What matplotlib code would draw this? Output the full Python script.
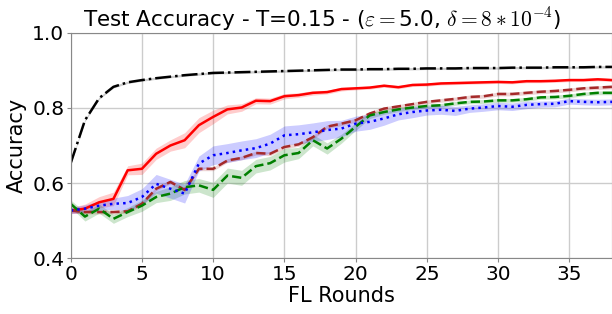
import numpy as np
import matplotlib
matplotlib.use("Agg")
import matplotlib.pyplot as plt

plt.rcParams['mathtext.fontset'] = 'cm'

rounds = np.arange(0, 39)

# centralized (black dash-dot)
acc_black = [0.653, 0.767, 0.826, 0.856, 0.868, 0.874, 0.879, 0.883, 0.887, 0.890,
             0.893, 0.894, 0.895, 0.896, 0.897, 0.898, 0.899, 0.900, 0.901, 0.902,
             0.902, 0.903, 0.903, 0.904, 0.904, 0.905, 0.905, 0.905, 0.906, 0.906,
             0.906, 0.907, 0.907, 0.907, 0.908, 0.908, 0.908, 0.909, 0.909]
std_black = [0.003] * 39

acc_red = [0.527, 0.532, 0.549, 0.558, 0.634, 0.638, 0.678, 0.700, 0.714, 0.754,
           0.776, 0.796, 0.801, 0.819, 0.818, 0.831, 0.834, 0.840, 0.842, 0.850,
           0.852, 0.854, 0.859, 0.855, 0.861, 0.862, 0.865, 0.866, 0.867, 0.868,
           0.869, 0.868, 0.871, 0.871, 0.872, 0.874, 0.874, 0.876, 0.874]
std_red = [0.008, 0.012, 0.015, 0.018, 0.012, 0.015, 0.015, 0.015, 0.02, 0.02,
           0.018, 0.012, 0.01, 0.008, 0.008, 0.007, 0.006, 0.006, 0.005, 0.005,
           0.004, 0.004, 0.004, 0.004, 0.004, 0.004, 0.004, 0.004, 0.004, 0.004,
           0.004, 0.004, 0.004, 0.004, 0.004, 0.004, 0.004, 0.004, 0.004]

acc_brown = [0.527, 0.523, 0.523, 0.523, 0.525, 0.545, 0.585, 0.603, 0.582, 0.638,
             0.638, 0.660, 0.667, 0.680, 0.678, 0.696, 0.703, 0.722, 0.750, 0.758,
             0.767, 0.785, 0.798, 0.804, 0.810, 0.816, 0.820, 0.824, 0.829, 0.831,
             0.837, 0.837, 0.840, 0.843, 0.845, 0.848, 0.852, 0.854, 0.856]
std_brown = [0.005] * 39

acc_green = [0.545, 0.511, 0.532, 0.505, 0.523, 0.540, 0.563, 0.572, 0.589, 0.594,
             0.582, 0.620, 0.614, 0.645, 0.653, 0.674, 0.680, 0.714, 0.692, 0.718,
             0.750, 0.780, 0.789, 0.796, 0.801, 0.805, 0.807, 0.812, 0.816, 0.817,
             0.820, 0.820, 0.823, 0.828, 0.829, 0.832, 0.837, 0.840, 0.840]
std_green = [0.01, 0.012, 0.012, 0.012, 0.012, 0.015, 0.015, 0.018, 0.018, 0.018,
             0.02, 0.02, 0.02, 0.018, 0.018, 0.018, 0.015, 0.015, 0.015, 0.012,
             0.01, 0.008, 0.006, 0.006, 0.005, 0.005, 0.005, 0.005, 0.005, 0.005,
             0.005, 0.005, 0.005, 0.005, 0.005, 0.005, 0.005, 0.005, 0.005]

acc_blue = [0.527, 0.532, 0.540, 0.545, 0.547, 0.563, 0.598, 0.585, 0.572, 0.652,
            0.674, 0.680, 0.687, 0.693, 0.705, 0.727, 0.730, 0.735, 0.741, 0.745,
            0.758, 0.763, 0.772, 0.783, 0.789, 0.793, 0.795, 0.792, 0.798, 0.801,
            0.805, 0.803, 0.808, 0.810, 0.811, 0.818, 0.816, 0.815, 0.816]
std_blue = [0.008, 0.01, 0.012, 0.015, 0.02, 0.022, 0.025, 0.025, 0.025, 0.02,
            0.025, 0.025, 0.025, 0.025, 0.025, 0.025, 0.025, 0.025, 0.025, 0.022,
            0.02, 0.02, 0.018, 0.015, 0.015, 0.012, 0.012, 0.012, 0.01, 0.01,
            0.01, 0.01, 0.01, 0.008, 0.008, 0.008, 0.008, 0.008, 0.008]

fig = plt.figure(figsize=(6.12, 3.14), dpi=100)
ax = fig.add_axes([0.1155, 0.1774, 0.8845, 0.7185])

series = [
    (acc_black, std_black, 'black', '-.'),
    (acc_red, std_red, 'red', '-'),
    (acc_brown, std_brown, 'brown', '--'),
    (acc_green, std_green, 'green', '--'),
    (acc_blue, std_blue, 'blue', ':'),
]
for acc, std, col, ls in series:
    acc = np.array(acc)
    std = np.array(std)
    ax.fill_between(rounds, acc - std, acc + std, color=col, alpha=0.2, linewidth=0)
    ax.plot(rounds, acc, color=col, linestyle=ls, linewidth=1.8)

ax.set_xlim(0, 38)
ax.set_ylim(0.4, 1.0)
ax.set_xticks([0, 5, 10, 15, 20, 25, 30, 35])
ax.set_yticks([0.4, 0.6, 0.8, 1.0])
ax.tick_params(labelsize=14.5, length=3, pad=1.5, color='#888888')
ax.grid(True, color='#cccccc', linewidth=1)
ax.set_axisbelow(True)
for s in ax.spines.values():
    s.set_color('#888888')
ax.set_xlabel('FL Rounds', fontsize=15, labelpad=2)
ax.set_ylabel('Accuracy', fontsize=15)
ax.set_title(r'Test Accuracy - T=0.15 - ($\varepsilon=$5.0, $\delta=8*10^{-4}$)',
             fontsize=15.5, x=0.465, pad=4)

fig.savefig('out.png', dpi=100)
